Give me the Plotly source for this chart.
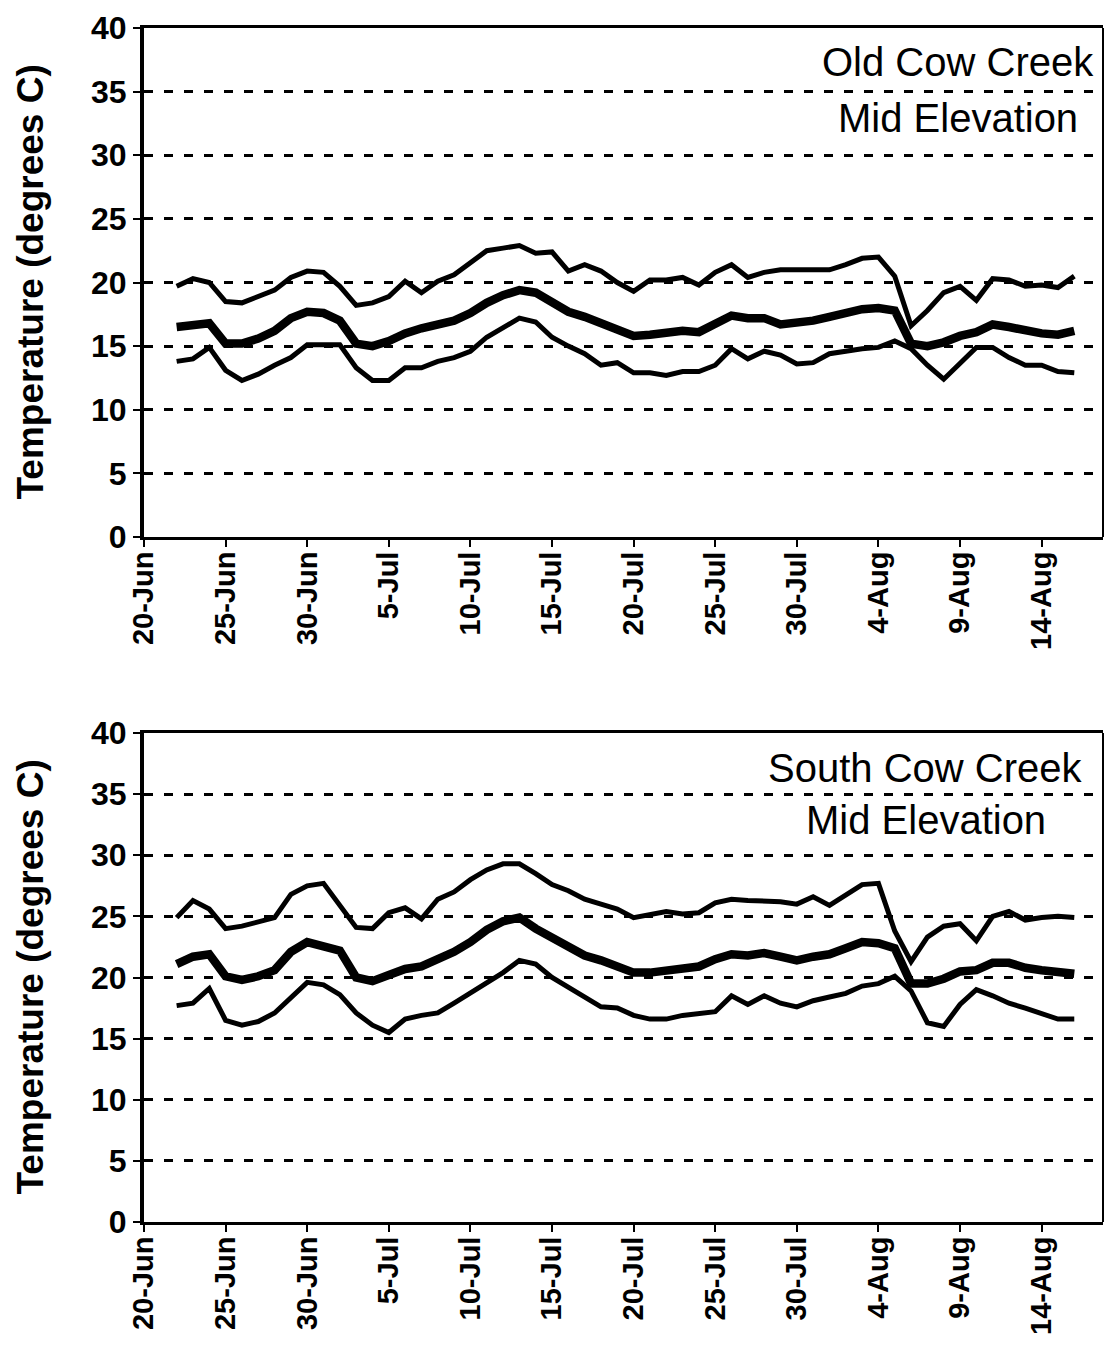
import pandas as pd
import plotly.graph_objects as go

# Daily stream temperature, 22 Jun - 16 Aug (degrees C)
dates = pd.date_range("2001-06-22", "2001-08-16", freq="D")

old_max = [19.7, 20.3, 20.0, 18.5, 18.4, 18.9, 19.4, 20.4, 20.9, 20.8,
           19.7, 18.2, 18.4, 18.9, 20.1, 19.2, 20.1, 20.6, 21.6, 22.5,
           22.7, 22.9, 22.3, 22.4, 20.9, 21.4, 20.9, 20.0, 19.3, 20.2,
           20.2, 20.4, 19.8, 20.8, 21.4, 20.4, 20.8, 21.0, 21.0, 21.0,
           21.0, 21.4, 21.9, 22.0, 20.5, 16.6, 17.8, 19.2, 19.7, 18.6,
           20.3, 20.2, 19.7, 19.8, 19.6, 20.5]
old_mean = [16.5, 16.6, 16.8, 15.2, 15.2, 15.6, 16.2, 17.2, 17.7, 17.6,
            17.0, 15.2, 15.0, 15.4, 16.0, 16.4, 16.7, 17.0, 17.6, 18.4,
            19.0, 19.4, 19.2, 18.4, 17.7, 17.3, 16.8, 16.4, 15.8, 15.9,
            16.1, 16.2, 16.1, 16.8, 17.4, 17.2, 17.2, 16.7, 16.8, 17.0,
            17.3, 17.6, 17.9, 18.0, 17.8, 15.2, 15.0, 15.3, 15.8, 16.1,
            16.7, 16.5, 16.2, 16.0, 15.9, 16.2]
old_min = [13.8, 14.0, 14.9, 13.1, 12.3, 12.8, 13.5, 14.1, 15.1, 15.1,
           15.1, 13.3, 12.3, 12.3, 13.3, 13.3, 13.8, 14.1, 14.6, 15.7,
           16.5, 17.2, 16.9, 15.7, 15.0, 14.4, 13.5, 13.7, 12.9, 12.9,
           12.7, 13.0, 13.0, 13.5, 14.8, 14.0, 14.6, 14.3, 13.6, 13.7,
           14.4, 14.6, 14.8, 14.9, 15.4, 14.8, 13.5, 12.4, 13.7, 14.9,
           14.9, 14.1, 13.5, 13.5, 13.0, 12.9]

south_max = [24.9, 26.3, 25.6, 24.0, 24.2, 24.5, 24.9, 26.8, 27.5, 27.7,
             25.9, 24.1, 24.0, 25.3, 25.7, 24.8, 26.4, 27.0, 28.0, 28.8,
             29.3, 29.3, 28.5, 27.6, 27.1, 26.4, 26.0, 25.6, 24.9, 25.1,
             25.4, 25.2, 25.3, 26.1, 26.4, 26.3, 26.3, 26.2, 26.0, 26.6,
             25.9, 26.8, 27.6, 27.7, 23.8, 21.3, 23.3, 24.2, 24.4, 23.0,
             25.0, 25.4, 24.7, 24.9, 25.0, 24.9]
south_mean = [21.1, 21.7, 21.9, 20.1, 19.8, 20.1, 20.6, 22.1, 22.9, 22.6,
              22.2, 20.0, 19.7, 20.2, 20.7, 20.9, 21.5, 22.1, 22.9, 23.9,
              24.6, 24.9, 24.0, 23.2, 22.4, 21.8, 21.4, 20.9, 20.4, 20.4,
              20.6, 20.8, 20.9, 21.5, 21.9, 21.8, 22.0, 21.7, 21.4, 21.7,
              21.9, 22.4, 22.9, 22.8, 22.4, 19.5, 19.5, 19.9, 20.5, 20.6,
              21.2, 21.2, 20.8, 20.6, 20.5, 20.3]
south_min = [17.7, 17.9, 19.1, 16.5, 16.1, 16.4, 17.1, 18.3, 19.6, 19.4,
             18.6, 17.1, 16.1, 15.5, 16.6, 16.9, 17.1, 17.9, 18.7, 19.6,
             20.4, 21.4, 21.1, 20.0, 19.2, 18.3, 17.6, 17.5, 16.9, 16.6,
             16.6, 16.9, 17.1, 17.2, 18.5, 17.8, 18.5, 17.9, 17.6, 18.1,
             18.4, 18.7, 19.3, 19.5, 20.1, 18.9, 16.3, 16.0, 17.8, 19.0,
             18.5, 17.9, 17.5, 17.0, 16.6, 16.6]

site_lines = [("Old Cow Creek", "Mid Elevation"),
              ("South Cow Creek", "Mid Elevation")]
y_title = "Temperature (degrees C)"

W, H = 1104, 1360
FONT = "Liberation Sans, Arial, sans-serif"

x_start = pd.Timestamp("2001-06-20")
x_end = x_start + pd.Timedelta(days=58.76)

fig = go.Figure()

panels = [
    (old_max, old_mean, old_min, "x", "y"),
    (south_max, south_mean, south_min, "x2", "y2"),
]
for mx, mn, lo, xa, ya in panels:
    for vals, width in ((mx, 5), (lo, 5), (mn, 8.5)):
        fig.add_trace(go.Scatter(
            x=dates, y=vals, xaxis=xa, yaxis=ya, mode="lines",
            line=dict(color="black", width=width),
            showlegend=False, hoverinfo="skip"))

x_dom = [144 / W, 1103 / W]
y_doms = [[1 - 537 / H, 1 - 28 / H], [1 - 1222 / H, 1 - 733 / H]]

xaxis_common = dict(
    type="date", range=[x_start, x_end], domain=x_dom, automargin=False,
    tick0="2001-06-20", dtick=5 * 86400000, tickformat="%-d-%b",
    tickangle=-90, ticks="outside", ticklen=7, tickwidth=2, tickcolor="black",
    ticklabelstandoff=-7,
    tickfont=dict(family=FONT, size=29, color="black", weight="bold"),
    showline=True, linecolor="black", linewidth=3, mirror=True,
    showgrid=False, zeroline=False,
)
yaxis_common = dict(
    range=[0, 40], dtick=5, tick0=0, automargin=False,
    ticks="outside", ticklen=7, tickwidth=2, tickcolor="black",
    tickfont=dict(family=FONT, size=32, color="black", weight="bold"),
    showline=True, linecolor="black", linewidth=4,
    showgrid=True, gridcolor="black", gridwidth=2.5, griddash="9px,11px",
    zeroline=False,
)

fig.update_layout(
    width=W, height=H,
    margin=dict(l=0, r=0, t=0, b=0, autoexpand=False),
    paper_bgcolor="white", plot_bgcolor="white",
    xaxis=dict(xaxis_common, anchor="y"),
    yaxis=dict(yaxis_common, domain=y_doms[0], anchor="x"),
    xaxis2=dict(xaxis_common, anchor="y2"),
    yaxis2=dict(yaxis_common, domain=y_doms[1], anchor="x2"),
)

# right-hand frame edge of each panel
for xr, yr in (("x domain", "y domain"), ("x2 domain", "y2 domain")):
    fig.add_shape(type="line", xref=xr, yref=yr, x0=1, x1=1, y0=0, y1=1,
                  line=dict(color="black", width=2))

# axis titles and site labels
label_pos = [((958, 62), (958, 118)), ((925, 768), (926, 820))]
for (y0, y1), lines, pos in zip(y_doms, site_lines, label_pos):
    fig.add_annotation(
        text=y_title, textangle=-90, xref="paper", yref="paper",
        x=30 / W, y=(y0 + y1) / 2, xanchor="center", yanchor="middle",
        showarrow=False,
        font=dict(family=FONT, size=37, color="black", weight="bold"))
    for text, (cx, cy) in zip(lines, pos):
        fig.add_annotation(
            text=text, xref="paper", yref="paper",
            x=cx / W, y=1 - cy / H, xanchor="center", yanchor="middle",
            showarrow=False,
            font=dict(family=FONT, size=40, color="black"))

fig.write_html("out.html")
